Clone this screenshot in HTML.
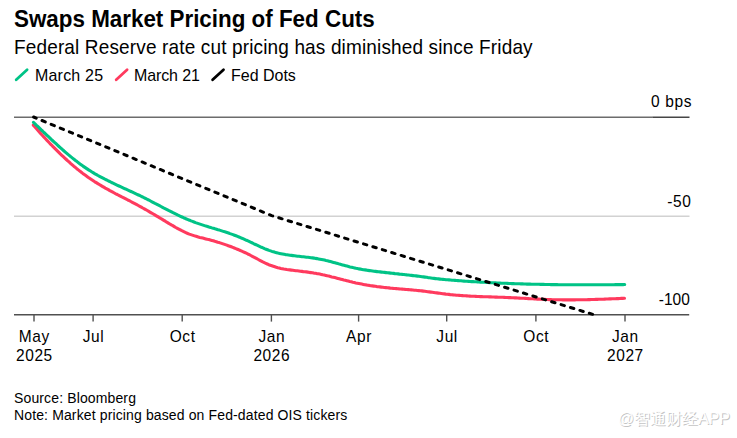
<!DOCTYPE html>
<html><head><meta charset="utf-8"><style>
html,body{margin:0;padding:0;background:#fff;width:737px;height:438px;overflow:hidden}
svg{display:block}
text{font-family:"Liberation Sans",sans-serif;fill:#000}
</style></head><body>
<svg width="737" height="438" viewBox="0 0 737 438">
<text transform="translate(14 26.7) scale(1 1.08)" font-size="22.4" font-weight="bold">Swaps Market Pricing of Fed Cuts</text>
<text transform="translate(14 54) scale(1 1.05)" font-size="19" letter-spacing="0.15">Federal Reserve rate cut pricing has diminished since Friday</text>
<g stroke-width="2.8" stroke-linecap="round">
<line x1="16.2" y1="79.7" x2="27.1" y2="69.8" stroke="#00C386"/>
<line x1="116.2" y1="79.7" x2="127.1" y2="69.8" stroke="#FF3A5E"/>
<line x1="212.6" y1="79.7" x2="223.5" y2="69.8" stroke="#000"/>
</g>
<text transform="translate(35 80.7) scale(1 1.05)" font-size="16" letter-spacing="0.2">March 25</text>
<text transform="translate(134 80.7) scale(1 1.05)" font-size="16" letter-spacing="-0.1">March 21</text>
<text transform="translate(231 80.7) scale(1 1.05)" font-size="16">Fed Dots</text>
<line x1="14" y1="216.2" x2="689.5" y2="216.2" stroke="#d2d2d2" stroke-width="1.4"/>
<line x1="14" y1="117.2" x2="652.3" y2="117.2" stroke="#6c6c6c" stroke-width="1.5"/>
<line x1="652.3" y1="117.2" x2="689.5" y2="117.2" stroke="#464646" stroke-width="1.5"/>
<line x1="14" y1="314.7" x2="689.2" y2="314.7" stroke="#505050" stroke-width="1.5"/>
<line x1="34" y1="315" x2="34" y2="321.6" stroke="#505050" stroke-width="1.4"/><line x1="93.1" y1="315" x2="93.1" y2="321.6" stroke="#505050" stroke-width="1.4"/><line x1="182.2" y1="315" x2="182.2" y2="321.6" stroke="#505050" stroke-width="1.4"/><line x1="271.4" y1="315" x2="271.4" y2="321.6" stroke="#505050" stroke-width="1.4"/><line x1="358.6" y1="315" x2="358.6" y2="321.6" stroke="#505050" stroke-width="1.4"/><line x1="446.7" y1="315" x2="446.7" y2="321.6" stroke="#505050" stroke-width="1.4"/><line x1="535.9" y1="315" x2="535.9" y2="321.6" stroke="#505050" stroke-width="1.4"/><line x1="625" y1="315" x2="625" y2="321.6" stroke="#505050" stroke-width="1.4"/>
<text transform="translate(692 106.9) scale(1 1.08)" font-size="15.5" text-anchor="end" letter-spacing="0.6">0 bps</text>
<text transform="translate(691.5 206.8) scale(1 1.04)" font-size="15.5" text-anchor="end" letter-spacing="0.6">-50</text>
<text transform="translate(689.8 305) scale(1 1.04)" font-size="15.5" text-anchor="end">-100</text>
<text transform="translate(34.4 341.7) scale(1 1.08)" font-size="15.5" text-anchor="middle" letter-spacing="0.6">May</text><text transform="translate(34.4 360.5) scale(1 1.04)" font-size="15.5" text-anchor="middle" letter-spacing="0.6">2025</text><text transform="translate(93.5 341.7) scale(1 1.08)" font-size="15.5" text-anchor="middle" letter-spacing="0.6">Jul</text><text transform="translate(182.6 341.7) scale(1 1.08)" font-size="15.5" text-anchor="middle" letter-spacing="0.6">Oct</text><text transform="translate(271.79999999999995 341.7) scale(1 1.08)" font-size="15.5" text-anchor="middle" letter-spacing="0.6">Jan</text><text transform="translate(271.79999999999995 360.5) scale(1 1.04)" font-size="15.5" text-anchor="middle" letter-spacing="0.6">2026</text><text transform="translate(359.0 341.7) scale(1 1.08)" font-size="15.5" text-anchor="middle" letter-spacing="0.6">Apr</text><text transform="translate(447.09999999999997 341.7) scale(1 1.08)" font-size="15.5" text-anchor="middle" letter-spacing="0.6">Jul</text><text transform="translate(536.3 341.7) scale(1 1.08)" font-size="15.5" text-anchor="middle" letter-spacing="0.6">Oct</text><text transform="translate(625.4 341.7) scale(1 1.08)" font-size="15.5" text-anchor="middle" letter-spacing="0.6">Jan</text><text transform="translate(625.4 360.5) scale(1 1.04)" font-size="15.5" text-anchor="middle" letter-spacing="0.6">2027</text>
<polyline points="33.3,125.1 34.8,126.8 36.3,128.5 37.8,130.2 39.3,131.9 40.8,133.6 42.3,135.2 43.8,136.9 45.3,138.5 46.8,140.1 48.3,141.7 49.8,143.3 51.3,144.8 52.8,146.4 54.3,147.9 55.8,149.4 57.3,150.9 58.8,152.4 60.3,153.9 61.8,155.3 63.3,156.7 64.8,158.1 66.3,159.5 67.8,160.9 69.3,162.2 70.8,163.6 72.3,164.9 73.8,166.2 75.3,167.4 76.8,168.7 78.3,169.9 79.8,171.1 81.3,172.2 82.8,173.4 84.3,174.5 85.8,175.6 87.3,176.7 88.8,177.8 90.3,178.8 91.8,179.8 93.3,180.8 94.8,181.8 96.3,182.7 97.8,183.6 99.3,184.5 100.8,185.4 102.3,186.3 103.8,187.2 105.3,188.1 106.8,188.9 108.3,189.7 109.8,190.6 111.3,191.4 112.8,192.2 114.3,193.0 115.8,193.8 117.3,194.5 118.8,195.3 120.3,196.1 121.8,196.9 123.3,197.6 124.8,198.4 126.3,199.2 127.8,200.0 129.3,200.7 130.8,201.5 132.3,202.3 133.8,203.1 135.3,203.9 136.8,204.7 138.3,205.5 139.8,206.3 141.3,207.1 142.8,208.0 144.3,208.8 145.8,209.7 147.3,210.5 148.8,211.4 150.3,212.3 151.8,213.2 153.3,214.0 154.8,214.9 156.3,215.8 157.8,216.7 159.3,217.6 160.8,218.5 162.3,219.4 163.8,220.3 165.3,221.2 166.8,222.2 168.3,223.1 169.8,224.0 171.3,224.9 172.8,225.7 174.3,226.6 175.8,227.5 177.3,228.3 178.8,229.1 180.3,229.9 181.8,230.7 183.3,231.4 184.8,232.1 186.3,232.8 187.8,233.5 189.3,234.1 190.8,234.6 192.3,235.1 193.8,235.6 195.3,236.1 196.8,236.5 198.3,237.0 199.8,237.4 201.3,237.7 202.8,238.1 204.3,238.5 205.8,238.9 207.3,239.3 208.8,239.6 210.3,240.0 211.8,240.4 213.3,240.8 214.8,241.3 216.3,241.7 217.8,242.2 219.3,242.6 220.8,243.1 222.3,243.6 223.8,244.1 225.3,244.6 226.8,245.1 228.3,245.7 229.8,246.2 231.3,246.8 232.8,247.4 234.3,248.0 235.8,248.6 237.3,249.2 238.8,249.8 240.3,250.5 241.8,251.1 243.3,251.8 244.8,252.5 246.3,253.2 247.8,254.0 249.3,254.7 250.8,255.5 252.3,256.3 253.8,257.1 255.3,257.9 256.8,258.7 258.3,259.5 259.8,260.3 261.3,261.1 262.8,261.9 264.3,262.6 265.8,263.3 267.3,264.0 268.8,264.7 270.3,265.3 271.8,265.8 273.3,266.3 274.8,266.8 276.3,267.3 277.8,267.7 279.3,268.0 280.8,268.4 282.3,268.7 283.8,269.0 285.3,269.2 286.8,269.5 288.3,269.7 289.8,269.9 291.3,270.1 292.8,270.3 294.3,270.5 295.8,270.7 297.3,270.8 298.8,271.0 300.3,271.2 301.8,271.4 303.3,271.6 304.8,271.7 306.3,271.9 307.8,272.1 309.3,272.4 310.8,272.6 312.3,272.8 313.8,273.1 315.3,273.3 316.8,273.6 318.3,273.8 319.8,274.1 321.3,274.4 322.8,274.8 324.3,275.1 325.8,275.4 327.3,275.8 328.8,276.1 330.3,276.5 331.8,276.9 333.3,277.2 334.8,277.6 336.3,278.0 337.8,278.4 339.3,278.8 340.8,279.2 342.3,279.6 343.8,280.0 345.3,280.3 346.8,280.7 348.3,281.1 349.8,281.5 351.3,281.8 352.8,282.2 354.3,282.5 355.8,282.9 357.3,283.2 358.8,283.5 360.3,283.8 361.8,284.1 363.3,284.4 364.8,284.7 366.3,284.9 367.8,285.2 369.3,285.4 370.8,285.7 372.3,285.9 373.8,286.1 375.3,286.3 376.8,286.6 378.3,286.8 379.8,286.9 381.3,287.1 382.8,287.3 384.3,287.5 385.8,287.6 387.3,287.8 388.8,287.9 390.3,288.1 391.8,288.2 393.3,288.4 394.8,288.5 396.3,288.6 397.8,288.7 399.3,288.9 400.8,289.0 402.3,289.1 403.8,289.2 405.3,289.4 406.8,289.5 408.3,289.6 409.8,289.8 411.3,289.9 412.8,290.0 414.3,290.2 415.8,290.3 417.3,290.5 418.8,290.6 420.3,290.8 421.8,290.9 423.3,291.1 424.8,291.3 426.3,291.5 427.8,291.7 429.3,291.9 430.8,292.1 432.3,292.3 433.8,292.5 435.3,292.7 436.8,292.9 438.3,293.1 439.8,293.3 441.3,293.5 442.8,293.7 444.3,293.9 445.8,294.1 447.3,294.2 448.8,294.4 450.3,294.6 451.8,294.7 453.3,294.9 454.8,295.0 456.3,295.2 457.8,295.3 459.3,295.4 460.8,295.5 462.3,295.6 463.8,295.7 465.3,295.8 466.8,295.9 468.3,296.0 469.8,296.1 471.3,296.2 472.8,296.3 474.3,296.3 475.8,296.4 477.3,296.5 478.8,296.5 480.3,296.6 481.8,296.6 483.3,296.7 484.8,296.7 486.3,296.8 487.8,296.8 489.3,296.9 490.8,296.9 492.3,297.0 493.8,297.0 495.3,297.1 496.8,297.1 498.3,297.2 499.8,297.2 501.3,297.3 502.8,297.3 504.3,297.4 505.8,297.5 507.3,297.5 508.8,297.6 510.3,297.6 511.8,297.7 513.3,297.8 514.8,297.9 516.3,297.9 517.8,298.0 519.3,298.1 520.8,298.2 522.3,298.2 523.8,298.3 525.3,298.4 526.8,298.5 528.3,298.6 529.8,298.7 531.3,298.7 532.8,298.8 534.3,298.9 535.8,299.0 537.3,299.1 538.8,299.1 540.3,299.2 541.8,299.3 543.3,299.3 544.8,299.4 546.3,299.5 547.8,299.5 549.3,299.6 550.8,299.6 552.3,299.7 553.8,299.7 555.3,299.7 556.8,299.8 558.3,299.8 559.8,299.8 561.3,299.8 562.8,299.9 564.3,299.9 565.8,299.9 567.3,299.9 568.8,299.9 570.3,299.9 571.8,299.9 573.3,299.9 574.8,299.9 576.3,299.8 577.8,299.8 579.3,299.8 580.8,299.8 582.3,299.7 583.8,299.7 585.3,299.7 586.8,299.7 588.3,299.6 589.8,299.6 591.3,299.5 592.8,299.5 594.3,299.5 595.8,299.4 597.3,299.4 598.8,299.3 600.3,299.3 601.8,299.2 603.3,299.2 604.8,299.1 606.3,299.0 607.8,299.0 609.3,298.9 610.8,298.9 612.3,298.8 613.8,298.7 615.3,298.7 616.8,298.6 618.3,298.6 619.8,298.5 621.3,298.4 622.8,298.4 624.3,298.3 624.5,298.3" fill="none" stroke="#FF3A5E" stroke-width="3.1" stroke-linecap="round" stroke-linejoin="round"/>
<polyline points="33.5,122.4 35.0,123.8 36.5,125.3 38.0,126.7 39.5,128.1 41.0,129.6 42.5,131.0 44.0,132.5 45.5,133.9 47.0,135.3 48.5,136.7 50.0,138.1 51.5,139.6 53.0,141.0 54.5,142.3 56.0,143.7 57.5,145.1 59.0,146.5 60.5,147.8 62.0,149.2 63.5,150.5 65.0,151.8 66.5,153.1 68.0,154.4 69.5,155.6 71.0,156.9 72.5,158.1 74.0,159.3 75.5,160.5 77.0,161.6 78.5,162.8 80.0,163.9 81.5,165.0 83.0,166.1 84.5,167.1 86.0,168.1 87.5,169.1 89.0,170.1 90.5,171.0 92.0,172.0 93.5,172.9 95.0,173.8 96.5,174.6 98.0,175.5 99.5,176.3 101.0,177.1 102.5,177.9 104.0,178.7 105.5,179.5 107.0,180.2 108.5,181.0 110.0,181.7 111.5,182.5 113.0,183.2 114.5,183.9 116.0,184.6 117.5,185.3 119.0,186.0 120.5,186.7 122.0,187.4 123.5,188.1 125.0,188.8 126.5,189.4 128.0,190.1 129.5,190.8 131.0,191.5 132.5,192.2 134.0,192.9 135.5,193.6 137.0,194.3 138.5,195.0 140.0,195.7 141.5,196.5 143.0,197.2 144.5,198.0 146.0,198.7 147.5,199.5 149.0,200.2 150.5,201.0 152.0,201.8 153.5,202.6 155.0,203.4 156.5,204.1 158.0,204.9 159.5,205.7 161.0,206.5 162.5,207.3 164.0,208.1 165.5,208.8 167.0,209.6 168.5,210.4 170.0,211.1 171.5,211.9 173.0,212.7 174.5,213.4 176.0,214.1 177.5,214.9 179.0,215.6 180.5,216.3 182.0,217.0 183.5,217.7 185.0,218.3 186.5,219.0 188.0,219.6 189.5,220.2 191.0,220.9 192.5,221.4 194.0,222.0 195.5,222.6 197.0,223.1 198.5,223.6 200.0,224.1 201.5,224.6 203.0,225.1 204.5,225.6 206.0,226.1 207.5,226.5 209.0,227.0 210.5,227.4 212.0,227.9 213.5,228.3 215.0,228.8 216.5,229.2 218.0,229.7 219.5,230.1 221.0,230.6 222.5,231.1 224.0,231.6 225.5,232.0 227.0,232.5 228.5,233.0 230.0,233.6 231.5,234.1 233.0,234.6 234.5,235.2 236.0,235.8 237.5,236.4 239.0,237.0 240.5,237.6 242.0,238.3 243.5,238.9 245.0,239.6 246.5,240.3 248.0,240.9 249.5,241.6 251.0,242.3 252.5,243.0 254.0,243.8 255.5,244.5 257.0,245.2 258.5,245.9 260.0,246.6 261.5,247.3 263.0,247.9 264.5,248.6 266.0,249.2 267.5,249.8 269.0,250.4 270.5,250.9 272.0,251.4 273.5,251.8 275.0,252.3 276.5,252.7 278.0,253.1 279.5,253.4 281.0,253.7 282.5,254.0 284.0,254.3 285.5,254.6 287.0,254.8 288.5,255.0 290.0,255.2 291.5,255.4 293.0,255.6 294.5,255.8 296.0,256.0 297.5,256.2 299.0,256.3 300.5,256.5 302.0,256.7 303.5,256.8 305.0,257.0 306.5,257.2 308.0,257.3 309.5,257.5 311.0,257.7 312.5,257.9 314.0,258.1 315.5,258.4 317.0,258.6 318.5,258.9 320.0,259.2 321.5,259.5 323.0,259.8 324.5,260.1 326.0,260.5 327.5,260.8 329.0,261.2 330.5,261.6 332.0,262.0 333.5,262.4 335.0,262.8 336.5,263.2 338.0,263.6 339.5,264.1 341.0,264.5 342.5,264.9 344.0,265.3 345.5,265.7 347.0,266.1 348.5,266.5 350.0,266.9 351.5,267.2 353.0,267.6 354.5,267.9 356.0,268.3 357.5,268.6 359.0,268.9 360.5,269.1 362.0,269.4 363.5,269.7 365.0,269.9 366.5,270.1 368.0,270.4 369.5,270.6 371.0,270.8 372.5,271.0 374.0,271.2 375.5,271.4 377.0,271.6 378.5,271.8 380.0,271.9 381.5,272.1 383.0,272.3 384.5,272.4 386.0,272.6 387.5,272.8 389.0,272.9 390.5,273.1 392.0,273.3 393.5,273.4 395.0,273.6 396.5,273.7 398.0,273.9 399.5,274.1 401.0,274.2 402.5,274.4 404.0,274.5 405.5,274.7 407.0,274.9 408.5,275.0 410.0,275.2 411.5,275.4 413.0,275.6 414.5,275.8 416.0,275.9 417.5,276.1 419.0,276.3 420.5,276.5 422.0,276.7 423.5,276.9 425.0,277.1 426.5,277.3 428.0,277.6 429.5,277.8 431.0,278.0 432.5,278.2 434.0,278.4 435.5,278.6 437.0,278.8 438.5,278.9 440.0,279.1 441.5,279.3 443.0,279.4 444.5,279.5 446.0,279.7 447.5,279.8 449.0,279.9 450.5,280.0 452.0,280.2 453.5,280.3 455.0,280.4 456.5,280.5 458.0,280.6 459.5,280.7 461.0,280.8 462.5,281.0 464.0,281.1 465.5,281.2 467.0,281.3 468.5,281.4 470.0,281.5 471.5,281.6 473.0,281.6 474.5,281.7 476.0,281.8 477.5,281.9 479.0,282.0 480.5,282.1 482.0,282.2 483.5,282.3 485.0,282.3 486.5,282.4 488.0,282.5 489.5,282.6 491.0,282.7 492.5,282.7 494.0,282.8 495.5,282.9 497.0,283.0 498.5,283.0 500.0,283.1 501.5,283.2 503.0,283.2 504.5,283.3 506.0,283.3 507.5,283.4 509.0,283.5 510.5,283.5 512.0,283.6 513.5,283.6 515.0,283.7 516.5,283.7 518.0,283.8 519.5,283.8 521.0,283.9 522.5,283.9 524.0,284.0 525.5,284.0 527.0,284.1 528.5,284.1 530.0,284.1 531.5,284.2 533.0,284.2 534.5,284.2 536.0,284.3 537.5,284.3 539.0,284.3 540.5,284.4 542.0,284.4 543.5,284.4 545.0,284.5 546.5,284.5 548.0,284.5 549.5,284.5 551.0,284.6 552.5,284.6 554.0,284.6 555.5,284.6 557.0,284.6 558.5,284.7 560.0,284.7 561.5,284.7 563.0,284.7 564.5,284.7 566.0,284.7 567.5,284.7 569.0,284.8 570.5,284.8 572.0,284.8 573.5,284.8 575.0,284.8 576.5,284.8 578.0,284.8 579.5,284.8 581.0,284.8 582.5,284.8 584.0,284.8 585.5,284.8 587.0,284.8 588.5,284.8 590.0,284.8 591.5,284.8 593.0,284.8 594.5,284.8 596.0,284.8 597.5,284.8 599.0,284.8 600.5,284.8 602.0,284.8 603.5,284.7 605.0,284.7 606.5,284.7 608.0,284.7 609.5,284.7 611.0,284.7 612.5,284.7 614.0,284.7 615.5,284.6 617.0,284.6 618.5,284.6 620.0,284.6 621.5,284.6 623.0,284.6 624.5,284.5 624.7,284.5" fill="none" stroke="#00C386" stroke-width="3.1" stroke-linecap="round" stroke-linejoin="round"/>
<polyline points="33.6,117 271.6,215.6 593.5,314.6" fill="none" stroke="#000" stroke-width="3" stroke-linecap="round" stroke-dasharray="3.5 6.345" stroke-dashoffset="0.7"/>
<text transform="translate(14 403.2) scale(1 1.0)" font-size="14" letter-spacing="0.13">Source: Bloomberg</text>
<text transform="translate(14 419.7) scale(1 1.0)" font-size="14" letter-spacing="0.13">Note: Market pricing based on Fed-dated OIS tickers</text>
<text x="618.8" y="425.1" font-size="15.9" style="fill:#c4c4c4">@智通财经APP</text><text x="618.0" y="424.3" font-size="15.9" style="fill:#fff">@智通财经APP</text>
</svg>
</body></html>
